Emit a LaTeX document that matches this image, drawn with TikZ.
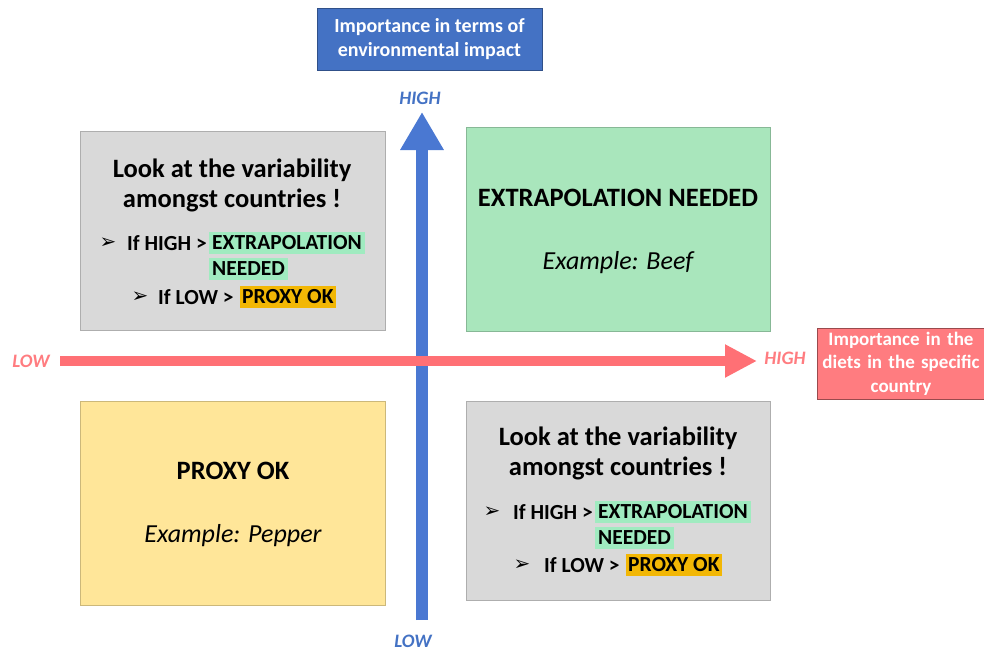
\documentclass[tikz,border=0pt]{standalone}
\usepackage{fontspec}
\setmainfont{Carlito}
\newfontfamily\symfont{DejaVu Sans}
\usetikzlibrary{arrows.meta}
\definecolor{boxblue}{HTML}{4472C4}
\definecolor{arrblue}{HTML}{4A78D2}
\definecolor{boxred}{HTML}{FF7C80}
\definecolor{arrred}{HTML}{FF7075}
\definecolor{quadgray}{HTML}{D9D9D9}
\definecolor{quadgreen}{HTML}{A9E6BC}
\definecolor{quadyellow}{HTML}{FFE699}
\definecolor{hlgreen}{HTML}{A0EBC0}
\definecolor{hlorange}{HTML}{F2B705}
\tikzset{
  quad/.style={draw=#1!80!black, line width=0.8pt, fill=#1, anchor=north west, inner sep=0pt},
  title/.style={font=\fontsize{26.5}{30}\selectfont\bfseries, align=center, text=black},
  bline/.style={font=\fontsize{21.5}{22}\selectfont\bfseries, anchor=west, text=black, inner sep=0pt},
  hl/.style={bline, fill=#1, inner xsep=2pt, inner ysep=0pt, text height=17pt, text depth=5pt},
  bullet/.style={font=\symfont\fontsize{20}{20}\selectfont, text=black, inner sep=0pt},
  axislbl/.style={font=\fontsize{19}{19}\selectfont\bfseries\itshape},
  hdr/.style={font=\fontsize{20}{24}\selectfont\bfseries, text=white, align=center, inner sep=0pt},
  big/.style={font=\fontsize{26.5}{26.5}\selectfont\bfseries},
  ex/.style={font=\fontsize{26}{26}\selectfont\itshape},
}
\begin{document}
\begin{tikzpicture}[x=1pt,y=-1pt]
\useasboundingbox (0,0) rectangle (984,653);
% header boxes
\node[hdr, fill=boxblue, draw=boxblue!70!black, minimum width=225pt, minimum height=62pt] (envbox) at (429.5,39) {Importance in terms of\\environmental impact};
\node[hdr, fill=boxred, draw=boxred!60!black, minimum width=168pt, minimum height=71pt, text width=166pt, font=\fontsize{19}{23.5}\selectfont\bfseries] (dietbox) at (901,363.5) {Importance in the\\diets in the specific\\country};
% quadrants
\node[quad=quadgray, minimum width=305pt, minimum height=199pt] (tl) at (80,131) {};
\node[quad=quadgreen, minimum width=304pt, minimum height=204pt] (tr) at (466,127) {};
\node[quad=quadyellow, minimum width=305pt, minimum height=204pt] (bl) at (80,401) {};
\node[quad=quadgray, minimum width=304pt, minimum height=199pt] (br) at (466,401) {};
% axes
\coordinate (vlow) at (422,620);
\coordinate (vhigh) at (422,112);
\coordinate (hlow) at (60,361);
\coordinate (hhigh) at (757,361);
\draw[arrblue, line width=12pt, -{Triangle[length=38pt,width=41pt]}] (vlow) -- (vhigh);
\draw[arrred, line width=10pt, -{Triangle[length=32pt,width=31pt]}] (hlow) -- (hhigh);
\node[axislbl, text=boxblue] (vhighlbl) at (420,98) {HIGH};
\node[axislbl, text=boxblue] (vlowlbl) at (413,641) {LOW};
\node[axislbl, text=boxred] (hlowlbl) at (31,361) {LOW};
\node[axislbl, text=boxred] (hhighlbl) at (785,358) {HIGH};
% top-left content
\node[title] (tlt) at (232,185) {Look at the variability\\amongst countries !};
\node[bullet] (tlb1) at (108,243) {➢};
\node[bline] (tlb1t) at (127,243) {If HIGH >};
\node[hl=hlgreen, inner xsep=3pt] (tlb1h) at (209,243) {EXTRAPOLATION};
\node[hl=hlgreen, inner xsep=3pt] (tlb1n) at (209,269) {NEEDED};
\node[bullet] (tlb2) at (140,297) {➢};
\node[bline] (tlb2t) at (158,297) {If LOW >};
\node[hl=hlorange] (tlb2h) at (240,297) {PROXY OK};
% top-right content
\node[big] (trt) at (618,198) {EXTRAPOLATION NEEDED};
\node[ex] (trex) at (618,263) {Example: Beef};
% bottom-left content
\node[big] (blt) at (233,471) {PROXY OK};
\node[ex] (blex) at (233,536) {Example: Pepper};
% bottom-right content
\begin{scope}[shift={(386,269)}]
\node[title] (brt) at (232,184) {Look at the variability\\amongst countries !};
\node[bullet] (brb1) at (106,243) {➢};
\node[bline] (brb1t) at (127,243) {If HIGH >};
\node[hl=hlgreen, inner xsep=3pt] (brb1h) at (209,243) {EXTRAPOLATION};
\node[hl=hlgreen, inner xsep=3pt] (brb1n) at (209,269) {NEEDED};
\node[bullet] (brb2) at (136,296) {➢};
\node[bline] (brb2t) at (158,296) {If LOW >};
\node[hl=hlorange] (brb2h) at (240,296) {PROXY OK};
\end{scope}
\end{tikzpicture}
\end{document}
